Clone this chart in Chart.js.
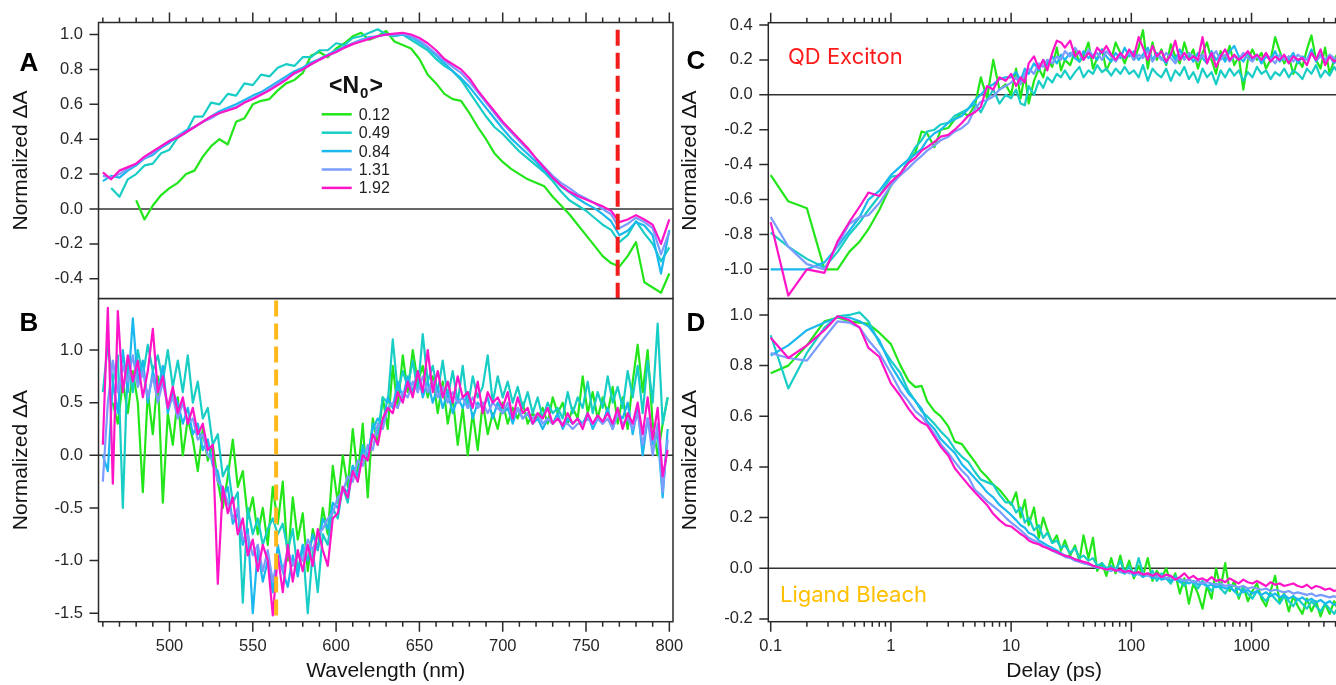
<!DOCTYPE html>
<html>
<head>
<meta charset="utf-8">
<script src="https://cdn.jsdelivr.net/npm/chart.js@4.4.1/dist/chart.umd.min.js"></script>
<style>
  html, body { margin: 0; padding: 0; background: #fff; overflow: hidden; }
  body { width: 1336px; height: 685px; position: relative; }
  canvas { position: absolute; }
</style>
</head>
<body>
<canvas id="chartA" width="690" height="300" style="left:0px;top:0px"></canvas>
<canvas id="chartB" width="690" height="387" style="left:0px;top:298px"></canvas>
<canvas id="chartC" width="669" height="300" style="left:676px;top:0px"></canvas>
<canvas id="chartD" width="669" height="387" style="left:676px;top:298px"></canvas>
<script>
// series in legend order
const seriesLabels = ['0.12', '0.49', '0.84', '1.31', '1.92'];
const seriesColors = ['#22e61a', '#18cdc6', '#1ab8ee', '#7b9cff', '#ff14c8'];

// tick labels
const yTicksA = [-0.4, -0.2, 0, 0.2, 0.4, 0.6, 0.8, 1.0];
const yTicksB = [-1.5, -1.0, -0.5, 0, 0.5, 1.0];
const yTicksC = [-1.0, -0.8, -0.6, -0.4, -0.2, 0, 0.2, 0.4];
const yTicksD = [-0.2, 0, 0.2, 0.4, 0.6, 0.8, 1.0];
const wlMajor = [500, 550, 600, 650, 700, 750, 800];
const wlMinor = [460, 470, 480, 490, 510, 520, 530, 540, 560, 570, 580, 590, 610, 620, 630, 640, 660, 670, 680, 690, 710, 720, 730, 740, 760, 770, 780, 790];
const delayMajor = [0.1, 1, 10, 100, 1000];
const delayMinor = [0.2, 0.3, 0.4, 0.5, 0.6, 0.7, 0.8, 0.9, 2, 3, 4, 5, 6, 7, 8, 9, 20, 30, 40, 50, 60, 70, 80, 90, 200, 300, 400, 500, 600, 700, 800, 900, 2000, 3000, 4000, 5000];

// marker wavelengths
const markerA = 769;
const markerB = 564;

// panel A: normalized spectra, 5 nm steps
const wlA = [460, 465, 470, 475, 480, 485, 490, 495, 500, 505,
  510, 515, 520, 525, 530, 535, 540, 545, 550, 555,
  560, 565, 570, 575, 580, 585, 590, 595, 600, 605,
  610, 615, 620, 625, 630, 635, 640, 645, 650, 655,
  660, 665, 670, 675, 680, 685, 690, 695, 700, 705,
  710, 715, 720, 725, 730, 735, 740, 745, 750, 755,
  760, 765, 770, 775, 780, 785, 790, 795, 800];
const specA_012 = [null, null, null, null, 0.05, -0.06, 0.02, 0.08, 0.12, 0.15,
  0.20, 0.22, 0.30, 0.36, 0.40, 0.37, 0.50, 0.52, 0.60, 0.62,
  0.63, 0.68, 0.72, 0.74, 0.78, 0.88, 0.90, 0.87, 0.92, 0.95,
  0.99, 1.01, 0.97, 0.99, 1.02, 0.96, 0.94, 0.92, 0.86, 0.77,
  0.72, 0.66, 0.63, 0.62, 0.55, 0.47, 0.40, 0.32, 0.27, 0.23,
  0.20, 0.17, 0.15, 0.13, 0.07, 0.02, -0.03, -0.09, -0.15, -0.21,
  -0.27, -0.31, -0.33, -0.27, -0.19, -0.42, -0.45, -0.48, -0.37];
const specA_049 = [null, 0.12, 0.07, 0.17, 0.20, 0.25, 0.26, 0.32, 0.34, 0.41,
  0.44, 0.53, 0.53, 0.61, 0.60, 0.66, 0.65, 0.72, 0.71, 0.77,
  0.76, 0.81, 0.83, 0.82, 0.87, 0.87, 0.91, 0.91, 0.95, 0.94,
  0.98, 0.99, 1.01, 1.03, 1.0, 0.99, 1.0, 0.97, 0.94, 0.91,
  0.86, 0.82, 0.79, 0.74, 0.67, 0.60, 0.53, 0.47, 0.43, 0.38,
  0.33, 0.29, 0.25, 0.21, 0.16, 0.10, 0.05, 0.02, -0.01, -0.05,
  -0.09, -0.12, -0.19, -0.15, -0.07, -0.14, -0.2, -0.3, -0.22];
const specA_084 = [0.16, 0.19, 0.18, 0.22, 0.25, 0.29, 0.31, 0.35, 0.38, 0.42,
  0.45, 0.47, 0.50, 0.53, 0.56, 0.58, 0.60, 0.625, 0.65, 0.67,
  0.70, 0.73, 0.76, 0.79, 0.81, 0.84, 0.86, 0.885, 0.91, 0.93,
  0.95, 0.97, 0.985, 0.99, 1.0, 0.995, 1.0, 0.985, 0.955, 0.925,
  0.88, 0.835, 0.79, 0.75, 0.70, 0.64, 0.58, 0.52, 0.46, 0.405,
  0.36, 0.315, 0.27, 0.22, 0.175, 0.13, 0.095, 0.06, 0.03, 0.005,
  -0.03, -0.07, -0.15, -0.125, -0.075, -0.095, -0.15, -0.37, -0.12];
const specA_131 = [0.19, 0.18, 0.20, 0.23, 0.26, 0.29, 0.32, 0.36, 0.39, 0.42,
  0.44, 0.47, 0.50, 0.52, 0.55, 0.57, 0.585, 0.61, 0.635, 0.66,
  0.69, 0.72, 0.75, 0.775, 0.80, 0.83, 0.855, 0.88, 0.90, 0.925,
  0.95, 0.965, 0.98, 0.99, 1.0, 1.0, 1.005, 0.99, 0.965, 0.93,
  0.89, 0.85, 0.815, 0.78, 0.73, 0.67, 0.61, 0.55, 0.49, 0.44,
  0.39, 0.34, 0.29, 0.24, 0.19, 0.15, 0.12, 0.085, 0.06, 0.035,
  0.0, -0.03, -0.11, -0.085, -0.05, -0.075, -0.11, -0.26, -0.13];
const specA_192 = [0.21, 0.17, 0.22, 0.24, 0.26, 0.30, 0.33, 0.36, 0.39, 0.41,
  0.44, 0.47, 0.50, 0.53, 0.55, 0.565, 0.58, 0.61, 0.63, 0.655,
  0.68, 0.71, 0.74, 0.78, 0.80, 0.83, 0.855, 0.88, 0.90, 0.925,
  0.945, 0.96, 0.975, 0.99, 1.0, 1.005, 1.01, 1.0, 0.98, 0.95,
  0.91, 0.86, 0.83, 0.80, 0.75, 0.68, 0.62, 0.56, 0.50, 0.45,
  0.40, 0.35, 0.29, 0.235, 0.18, 0.135, 0.10, 0.075, 0.055, 0.035,
  0.015, -0.01, -0.075, -0.06, -0.035, -0.06, -0.09, -0.2, -0.06];

// panel B: normalized spectra, 3 nm steps
const wlB = [460, 463, 466, 469, 472, 475, 478, 481, 484, 487,
  490, 493, 496, 499, 502, 505, 508, 511, 514, 517,
  520, 523, 526, 529, 532, 535, 538, 541, 544, 547,
  550, 553, 556, 559, 562, 565, 568, 571, 574, 577,
  580, 583, 586, 589, 592, 595, 598, 601, 604, 607,
  610, 613, 616, 619, 622, 625, 628, 631, 634, 637,
  640, 643, 646, 649, 652, 655, 658, 661, 664, 667,
  670, 673, 676, 679, 682, 685, 688, 691, 694, 697,
  700, 703, 706, 709, 712, 715, 718, 721, 724, 727,
  730, 733, 736, 739, 742, 745, 748, 751, 754, 757,
  760, 763, 766, 769, 772, 775, 778, 781, 784, 787,
  790, 793, 796, 799];
const specB_012 = [null, null, 0.50, 0.30, 0.70, 0.40, 0.80, 0.50, -0.35, 0.60,
  0.20, 0.75, -0.45, 0.40, 0.10, 0.55, 0.00, 0.35, 0.15, -0.15,
  0.25, -0.05, 0.10, -0.25, -0.50, -0.20, 0.15, -0.30, -0.15, -0.60,
  -0.40, -0.75, -0.50, -0.85, -0.30, -0.65, -0.25, -1.00, -0.40, -0.80,
  -0.55, -1.10, -0.70, -0.90, -0.50, -0.75, -0.10, -0.45, 0.00, -0.30,
  0.25, -0.20, 0.30, -0.40, 0.35, 0.10, 0.55, 0.25, 0.85, 0.45,
  0.95, 0.60, 1.00, 0.70, 0.85, 0.55, 0.75, 0.40, 0.70, 0.30,
  0.55, 0.10, 0.45, 0.00, 0.40, 0.05, 0.50, 0.20, 0.40, 0.25,
  0.50, 0.30, 0.45, 0.35, 0.50, 0.30, 0.40, 0.35, 0.45, 0.30,
  0.55, 0.40, 0.50, 0.30, 0.45, 0.35, 0.75, 0.40, 0.60, 0.35,
  0.55, 0.40, 0.65, 0.30, 0.55, 0.25, 0.70, 1.05, 0.60, 1.00,
  0.30, 0.00, 0.30, 0.55];
const specB_049 = [0.60, 1.05, 0.70, 0.95, -0.50, 0.90, 0.60, 1.00, 0.75, 1.05,
  0.80, 0.95, 0.70, 1.00, 0.65, 0.90, 0.60, 0.95, 0.50, 0.70,
  0.35, 0.45, 0.10, 0.20, -0.20, -0.10, -0.45, -0.35, -1.40, -0.50,
  -0.75, -0.60, -0.85, -0.70, -0.60, -0.75, -0.65, -0.90, -0.70, -1.10,
  -0.85, -1.50, -0.90, -1.30, -0.75, -0.85, -0.50, -0.60, -0.30, -0.45,
  -0.10, -0.25, 0.10, -0.05, 0.30, 0.20, 0.55, 0.50, 1.10, 0.60,
  0.80, 0.65, 0.90, 0.60, 1.15, 0.70, 0.85, 0.60, 0.90, 0.55,
  0.80, 0.50, 0.85, 0.45, 0.75, 0.55, 0.65, 0.95, 0.50, 0.75,
  0.55, 0.70, 0.50, 0.65, 0.45, 0.60, 0.40, 0.55, 0.35, 0.50,
  0.40, 0.45, 0.35, 0.60, 0.40, 0.55, 0.45, 0.70, 0.40, 0.60,
  0.45, 0.75, 0.50, 0.65, 0.45, 0.80, 0.55, 0.85, 0.40, 0.90,
  0.50, 1.25, 0.30, 0.55];
const specB_084 = [0.00, -0.15, 0.70, 0.40, 1.00, 0.60, 1.30, 0.70, 0.90, 0.50,
  0.80, 0.60, 0.85, 0.40, 0.60, 0.50, 0.30, 0.45, 0.20, 0.30,
  0.05, 0.15, -0.10, -0.15, -0.40, -0.30, -0.65, -0.55, -0.85, -0.70,
  -1.50, -0.90, -1.20, -1.00, -1.30, -0.85, -1.10, -1.25, -0.95, -1.15,
  -0.85, -1.00, -0.75, -0.90, -0.60, -0.70, -0.45, -0.50, -0.30, -0.35,
  -0.10, -0.20, 0.05, 0.00, 0.25, 0.35, 0.30, 0.55, 0.45, 0.70,
  0.55, 0.75, 0.60, 0.80, 0.55, 0.70, 0.50, 0.65, 0.45, 0.60,
  0.40, 0.55, 0.45, 0.60, 0.35, 0.50, 0.45, 0.55, 0.35, 0.50,
  0.40, 0.45, 0.30, 0.45, 0.35, 0.40, 0.30, 0.35, 0.25, 0.35,
  0.30, 0.40, 0.25, 0.35, 0.30, 0.35, 0.30, 0.40, 0.25, 0.35,
  0.30, 0.45, 0.25, 0.40, 0.35, 0.50, 0.20, 0.45, 0.00, 0.35,
  0.10, 0.20, -0.40, 0.25];
const specB_131 = [-0.25, 0.50, 0.90, 0.60, 0.85, 0.70, 0.95, 0.65, 0.80, 0.55,
  0.75, 0.50, 0.70, 0.45, 0.55, 0.35, 0.50, 0.30, 0.35, 0.15,
  0.20, 0.00, -0.05, -0.25, -0.30, -0.45, -0.60, -0.50, -0.80, -0.75,
  -0.95, -0.85, -1.10, -0.90, -1.20, -1.00, -1.10, -0.90, -1.05, -0.95,
  -1.00, -0.80, -0.90, -0.75, -0.70, -0.60, -0.55, -0.40, -0.35, -0.20,
  -0.25, -0.05, -0.10, 0.10, 0.05, 0.30, 0.25, 0.45, 0.50, 0.45,
  0.60, 0.55, 0.70, 0.60, 0.75, 0.60, 0.70, 0.55, 0.65, 0.50,
  0.60, 0.50, 0.55, 0.45, 0.55, 0.45, 0.50, 0.40, 0.50, 0.45,
  0.40, 0.50, 0.35, 0.45, 0.35, 0.40, 0.35, 0.40, 0.30, 0.35,
  0.30, 0.35, 0.30, 0.30, 0.25, 0.30, 0.30, 0.35, 0.30, 0.35,
  0.30, 0.35, 0.25, 0.40, 0.30, 0.35, 0.25, 0.40, 0.10, 0.35,
  0.00, 0.30, -0.35, 0.15];
const specB_192 = [0.10, 1.40, -0.27, 1.37, 0.60, 0.95, 0.70, 0.90, 0.55, 0.80,
  1.20, 0.60, 0.75, 0.45, 0.65, 0.40, 0.55, 0.30, 0.45, 0.20,
  0.30, 0.05, 0.10, -1.22, -0.30, -0.55, -0.40, -0.75, -0.60, -0.95,
  -0.80, -1.10, -0.85, -1.00, -1.52, -0.95, -1.30, -0.85, -1.20, -0.90,
  -1.10, -0.85, -1.05, -0.70, -0.90, -1.05, -0.60, -0.55, -0.30, -0.40,
  -0.15, -0.25, 0.00, -0.05, 0.20, 0.10, 0.35, 0.45, 0.40, 0.60,
  0.50, 0.70, 0.55, 0.80, 0.60, 1.00, 0.60, 0.80, 0.55, 0.70,
  0.50, 0.75, 0.55, 0.60, 0.45, 0.70, 0.40, 0.60, 0.50, 0.55,
  0.45, 0.60, 0.35, 0.55, 0.40, 0.45, 0.30, 0.40, 0.35, 0.45,
  0.30, 0.35, 0.28, 0.40, 0.30, 0.35, 0.25, 0.40, 0.30, 0.38,
  0.32, 0.40, 0.30, 0.45, 0.25, 0.40, 0.30, 0.50, 0.20, 0.55,
  0.15, 0.45, -0.20, 0.05];

// panels C and D: kinetics vs delay (ps)
const delay = [0.1, 0.14, 0.2, 0.28, 0.36, 0.45, 0.55, 0.65, 0.8, 1.0,
  1.2, 1.4, 1.6, 1.8, 2.0, 2.3, 2.6, 3.0, 3.4, 3.9,
  4.4, 5.0, 5.6, 6.3, 7.1, 8.0, 9.0, 10, 11, 12,
  13, 14, 15.5, 17, 18.5, 20, 22, 24, 26, 28,
  31, 34, 37, 40, 44, 48, 52, 57, 62, 68,
  74, 81, 88, 96, 105, 115, 125, 137, 150, 163,
  178, 195, 213, 232, 253, 276, 301, 328, 358, 391,
  426, 465, 507, 553, 603, 658, 718, 783, 854, 932,
  1017, 1109, 1210, 1320, 1440, 1571, 1714, 1870, 2040, 2225,
  2427, 2648, 2889, 3151, 3438, 3750, 4091, 4463, 4869, 5311,
  5794];
const kinC_012 = [-0.46, -0.61, -0.65, -1.0, -1.0, -0.9, -0.84, -0.77, -0.66, -0.52,
  -0.45, -0.38, -0.33, -0.21, -0.22, -0.3, -0.2, -0.19, -0.14, -0.1,
  -0.12, -0.06, 0.1, -0.02, 0.2, 0.03, 0.06, 0.0, 0.15, -0.02,
  0.12, -0.05, 0.08, 0.15, 0.1, 0.2, 0.16, 0.27, 0.14, 0.2,
  0.17, 0.25, 0.19, 0.22, 0.3, 0.15, 0.21, 0.26, 0.14, 0.2,
  0.3, 0.24, 0.18, 0.25, 0.2, 0.27, 0.37, 0.15, 0.3, 0.2,
  0.26, 0.17, 0.29, 0.22, 0.18, 0.3, 0.21, 0.26, 0.15, 0.24,
  0.3, 0.2, 0.12, 0.25, 0.2, 0.28, 0.17, 0.22, 0.03, 0.2,
  0.26, 0.2, 0.24, 0.15, 0.2, 0.33, 0.25, 0.18, 0.22, 0.12,
  0.2, 0.16, 0.26, 0.34, 0.2, 0.15, 0.27, 0.12, 0.2, 0.25,
  0.16];
const kinC_049 = [-0.79, -0.87, -0.94, -0.99, -0.9, -0.8, -0.73, -0.66, -0.58, -0.47,
  -0.46, -0.37, -0.3, -0.26, -0.21, -0.2, -0.17, -0.16, -0.12, -0.1,
  -0.08, -0.05, -0.1, -0.03, 0.03, -0.05, 0.0, -0.02, 0.03, -0.05,
  -0.06, 0.05, 0.0, 0.08, 0.04, 0.1, 0.07, 0.12, 0.1, 0.14,
  0.09, 0.13, 0.16, 0.1, 0.14, 0.12, 0.17, 0.13, 0.15, 0.11,
  0.15, 0.12, 0.16, 0.12, 0.14, 0.1, 0.17, 0.08, 0.15, 0.12,
  0.1, 0.15, 0.08, 0.14, 0.11, 0.16, 0.09, 0.13, 0.07, 0.15,
  0.1, 0.13, 0.06, 0.14, 0.1, 0.15, 0.11, 0.14, 0.08, 0.13,
  0.1, 0.16, 0.12, 0.14, 0.09, 0.13, 0.11, 0.15, 0.1, 0.14,
  0.12, 0.09, 0.15, 0.12, 0.17, 0.1, 0.14, 0.11, 0.16, 0.12,
  0.15];
const kinC_084 = [-1.0, -1.0, -1.0, -0.96, -0.87, -0.78, -0.7, -0.6, -0.55, -0.46,
  -0.41, -0.37, -0.34, -0.31, -0.26, -0.22, -0.2, -0.16, -0.14, -0.12,
  -0.08, -0.03, 0.0, 0.04, 0.06, 0.09, 0.1, 0.1, 0.13, 0.08,
  0.15, 0.12, 0.18, 0.14, 0.2, 0.17, 0.22, 0.18, 0.23, 0.2,
  0.24, 0.21, 0.19, 0.25, 0.21, 0.23, 0.2, 0.26, 0.22, 0.19,
  0.24, 0.21, 0.27, 0.22, 0.25, 0.2, 0.23, 0.27, 0.2, 0.24,
  0.21, 0.18, 0.24, 0.2, 0.26, 0.21, 0.23, 0.19, 0.24, 0.21,
  0.18, 0.25, 0.2, 0.23, 0.19, 0.25, 0.28, 0.22, 0.19, 0.24,
  0.2, 0.23, 0.18, 0.22, 0.2, 0.25, 0.19, 0.22, 0.2, 0.24,
  0.18, 0.22, 0.2, 0.26, 0.19, 0.23, 0.2, 0.22, 0.18, 0.21,
  0.2];
const kinC_131 = [-0.7, -0.87, -0.97, -1.0, -0.86, -0.74, -0.7, -0.69, -0.62, -0.52,
  -0.46, -0.42, -0.38, -0.35, -0.32, -0.29, -0.26, -0.24, -0.21, -0.19,
  -0.16, -0.08, -0.04, -0.03, -0.01, 0.03, 0.05, 0.07, 0.1, 0.06,
  0.12, 0.15, 0.12, 0.18, 0.16, 0.2, 0.18, 0.22, 0.2, 0.25,
  0.22, 0.27, 0.23, 0.2, 0.26, 0.22, 0.24, 0.2, 0.25, 0.22,
  0.19, 0.23, 0.21, 0.25, 0.2, 0.23, 0.21, 0.25, 0.19, 0.23,
  0.2, 0.24, 0.21, 0.18, 0.23, 0.2, 0.24, 0.22, 0.19, 0.23,
  0.2, 0.22, 0.25, 0.2, 0.23, 0.19, 0.22, 0.2, 0.24, 0.21,
  0.19, 0.22, 0.2, 0.23, 0.21, 0.18, 0.23, 0.2, 0.22, 0.19,
  0.23, 0.21, 0.2, 0.24, 0.2, 0.22, 0.19, 0.23, 0.21, 0.2,
  0.22];
const kinC_192 = [-0.73, -1.15, -1.0, -1.02, -0.84, -0.73, -0.64, -0.56, -0.58, -0.5,
  -0.45, -0.39, -0.36, -0.32, -0.30, -0.27, -0.24, -0.23, -0.2, -0.16,
  -0.12, -0.1, -0.07, 0.05, 0.03, 0.1, 0.08, 0.12, 0.05, 0.1,
  0.07, 0.18, 0.22, 0.15, 0.2, 0.14, 0.24, 0.31, 0.3, 0.27,
  0.31, 0.22, 0.25, 0.2, 0.24, 0.21, 0.27, 0.24, 0.28, 0.23,
  0.2, 0.24, 0.21, 0.26, 0.22, 0.33, 0.27, 0.2, 0.28, 0.22,
  0.25, 0.19, 0.23, 0.31, 0.2, 0.24, 0.2, 0.22, 0.2, 0.33,
  0.18, 0.24, 0.16, 0.22, 0.26, 0.2, 0.23, 0.2, 0.22, 0.25,
  0.21, 0.23, 0.2, 0.24, 0.19, 0.22, 0.2, 0.23, 0.18, 0.22,
  0.2, 0.21, 0.17, 0.24, 0.2, 0.26, 0.17, 0.22, 0.19, 0.21,
  0.2];
const kinD_012 = [0.77, 0.8, 0.88, 0.975, 0.99, 0.975, 0.97, 0.965, 0.93, 0.885,
  0.8, 0.74, 0.715, 0.72, 0.66, 0.62, 0.6, 0.56, 0.5, 0.49,
  0.455, 0.42, 0.385, 0.36, 0.33, 0.31, 0.28, 0.25, 0.3, 0.2,
  0.27, 0.17, 0.24, 0.12, 0.2, 0.15, 0.1, 0.13, 0.07, 0.11,
  0.05, 0.09, 0.03, 0.13, 0.04, 0.12, -0.01, 0.02, -0.03, 0.04,
  -0.02, 0.05, -0.02, 0.03, -0.04, 0.01, -0.03, 0.04, -0.05, -0.01,
  -0.04, 0.0, -0.06, -0.02, -0.1, -0.04, -0.14, -0.06, -0.1, -0.16,
  -0.07, -0.12, 0.0, -0.08, 0.02, -0.09, -0.05, -0.12, -0.07, -0.13,
  -0.09, -0.06, -0.12, -0.15, -0.09, -0.03, -0.13, -0.1, -0.17, -0.11,
  -0.15, -0.18, -0.12, -0.17, -0.13, -0.19, -0.14, -0.18, -0.13, -0.17,
  -0.15];
const kinD_049 = [0.92, 0.71, 0.85, 0.95, 0.995, 1.0, 1.01, 0.975, 0.89, 0.82,
  0.77, 0.7, 0.66, 0.62, 0.6, 0.57, 0.54, 0.51, 0.47, 0.44,
  0.42, 0.38, 0.35, 0.34, 0.33, 0.29, 0.26, 0.26, 0.22, 0.24,
  0.18, 0.2, 0.15, 0.17, 0.12, 0.14, 0.1, 0.11, 0.08, 0.09,
  0.06, 0.08, 0.04, 0.05, 0.03, 0.04, 0.01, 0.02, 0.0, 0.01,
  -0.01, 0.03, -0.02, 0.01, -0.03, 0.04, -0.02, -0.03, -0.01, -0.05,
  -0.02, -0.04, -0.06, -0.03, -0.05, -0.07, -0.04, -0.06, -0.08, -0.05,
  -0.07, -0.09, -0.06, -0.08, -0.1, -0.07, -0.09, -0.11, -0.08, -0.1,
  -0.12, -0.09, -0.11, -0.13, -0.1, -0.12, -0.14, -0.11, -0.13, -0.15,
  -0.12, -0.14, -0.16, -0.13, -0.15, -0.17, -0.14, -0.16, -0.18, -0.15,
  -0.17];
const kinD_084 = [0.84, 0.88, 0.94, 0.97, 0.99, 0.99, 0.975, 0.955, 0.9, 0.8,
  0.74, 0.69, 0.66, 0.63, 0.58, 0.55, 0.51, 0.48, 0.455, 0.41,
  0.385, 0.355, 0.33, 0.3, 0.28, 0.25, 0.23, 0.21, 0.19, 0.17,
  0.16, 0.14, 0.13, 0.11, 0.1, 0.09, 0.08, 0.07, 0.06, 0.05,
  0.045, 0.035, 0.03, 0.02, 0.015, 0.01, 0.0, 0.005, -0.005, -0.01,
  0.0, -0.015, -0.02, -0.01, -0.03, -0.02, -0.035, -0.025, -0.04, -0.03,
  -0.045, -0.04, -0.05, -0.04, -0.055, -0.05, -0.06, -0.05, -0.065, -0.06,
  -0.07, -0.065, -0.075, -0.07, -0.08, -0.075, -0.09, -0.08, -0.095, -0.085,
  -0.1, -0.09, -0.105, -0.095, -0.11, -0.1, -0.115, -0.105, -0.12, -0.11,
  -0.125, -0.115, -0.13, -0.12, -0.135, -0.125, -0.14, -0.13, -0.145, -0.135,
  -0.14];
const kinD_131 = [0.85, 0.83, 0.82, 0.91, 0.975, 0.97, 0.95, 0.9, 0.85, 0.77,
  0.7, 0.66, 0.62, 0.6, 0.57, 0.53, 0.49, 0.455, 0.42, 0.385,
  0.36, 0.31, 0.29, 0.265, 0.245, 0.225, 0.2, 0.18, 0.165, 0.15,
  0.135, 0.12, 0.11, 0.1, 0.09, 0.08, 0.07, 0.06, 0.055, 0.045,
  0.04, 0.03, 0.025, 0.02, 0.015, 0.01, 0.005, 0.0, -0.005, -0.01,
  -0.005, -0.015, -0.01, -0.02, -0.015, -0.025, -0.02, -0.03, -0.025, -0.035,
  -0.03, -0.04, -0.035, -0.045, -0.04, -0.05, -0.045, -0.055, -0.05, -0.06,
  -0.055, -0.06, -0.065, -0.06, -0.07, -0.065, -0.07, -0.075, -0.07, -0.08,
  -0.075, -0.08, -0.085, -0.08, -0.09, -0.085, -0.09, -0.095, -0.09, -0.1,
  -0.095, -0.1, -0.105, -0.1, -0.11, -0.105, -0.11, -0.115, -0.11, -0.12,
  -0.115];
const kinD_192 = [0.91, 0.83, 0.88, 0.94, 0.995, 0.98, 0.95, 0.87, 0.835, 0.73,
  0.68, 0.63, 0.595, 0.575, 0.565, 0.52, 0.48, 0.445, 0.395, 0.36,
  0.33, 0.3, 0.275, 0.25, 0.215, 0.19, 0.17, 0.165, 0.15, 0.135,
  0.125, 0.11, 0.1, 0.095, 0.085, 0.08, 0.07, 0.065, 0.055, 0.05,
  0.045, 0.035, 0.03, 0.025, 0.02, 0.01, 0.005, 0.0, -0.005, 0.0,
  -0.01, -0.005, -0.015, -0.01, -0.02, -0.015, -0.025, -0.02, -0.03, -0.02,
  -0.035, -0.025, -0.03, -0.045, -0.035, -0.02, -0.04, -0.03, -0.045, -0.04,
  -0.05, -0.035, -0.05, -0.045, -0.055, -0.04, -0.05, -0.06, -0.045, -0.055,
  -0.06, -0.05, -0.06, -0.07, -0.055, -0.065, -0.06, -0.07, -0.065, -0.06,
  -0.07, -0.075, -0.065, -0.08, -0.07, -0.075, -0.085, -0.08, -0.09, -0.085,
  -0.095];

const fam = "'Liberation Sans', Arial, Helvetica, sans-serif";
Chart.defaults.font.family = fam;
Chart.defaults.font.size = 16.5;
Chart.defaults.color = '#262626';

const toPoints = (xs, ys) => xs.map((x, i) => ({x: x, y: ys[i]}));

function traces(xs, list) {
  return list.map((ys, k) => ({
    label: seriesLabels[k],
    data: toPoints(xs, ys),
    borderColor: seriesColors[k],
    borderWidth: 2.2,
    pointRadius: 0,
    borderJoinStyle: 'round',
    order: 5 - k
  }));
}

function marker(x, top, bottom, color) {
  return {
    label: 'marker',
    data: [{x: x, y: top}, {x: x, y: bottom}],
    borderColor: color,
    borderWidth: 4,
    borderDash: [16, 7],
    pointRadius: 0,
    order: 0
  };
}

function yAxis(min, max, ticks, width, titlePad) {
  return {
    type: 'linear', position: 'left', min: min, max: max, bounds: 'data',
    grid: {display: false, drawTicks: false}, border: {display: false},
    afterBuildTicks: s => { s.ticks = ticks.map(v => ({value: v})); },
    afterFit: s => { s.width = width; s.paddingTop = 0; s.paddingBottom = 0; },
    ticks: {padding: 15.5, autoSkip: false, callback: v => v.toFixed(1)},
    title: {display: true, text: 'Normalized ΔA', font: {size: 21}, color: '#141414', padding: {top: titlePad, bottom: 0}}
  };
}

function xAxis(type, min, max, ticks, title, shown) {
  const ax = {type: type, position: 'bottom', min: min, max: max, bounds: 'data', display: shown};
  if (!shown) return ax;
  return Object.assign(ax, {
    grid: {display: false, drawTicks: false}, border: {display: false},
    afterBuildTicks: s => { s.ticks = ticks.map(v => ({value: v})); },
    afterFit: s => { s.height = 63.3; s.paddingLeft = 0; s.paddingRight = 0; },
    ticks: {padding: 15, autoSkip: false, maxRotation: 0, minRotation: 0, callback: v => String(v)},
    title: {display: true, text: title, font: {size: 21}, color: '#141414', padding: {top: 0, bottom: 1}}
  });
}

const framePlugin = {
  id: 'frame',
  beforeDatasetsDraw(chart) {
    const {ctx, chartArea: a} = chart;
    const y0 = chart.scales.y.getPixelForValue(0);
    ctx.save();
    ctx.strokeStyle = '#333';
    ctx.lineWidth = 1.4;
    ctx.beginPath();
    ctx.moveTo(a.left, y0);
    ctx.lineTo(a.right, y0);
    ctx.stroke();
    ctx.restore();
  },
  afterDraw(chart, args, o) {
    const {ctx, chartArea: a} = chart;
    const x = chart.scales.x, y = chart.scales.y;
    ctx.save();
    ctx.strokeStyle = '#2a2a2a';
    ctx.lineWidth = 1.5;
    ctx.strokeRect(a.left, a.top, a.right - a.left, a.bottom - a.top);
    const edge = o.edge === 'top' ? a.top : a.bottom;
    const dir = o.edge === 'top' ? -1 : 1;
    ctx.beginPath();
    const mark = (list, len) => list.forEach(v => {
      if (v < x.min || v > x.max) return;
      const px = x.getPixelForValue(v);
      ctx.moveTo(px, edge);
      ctx.lineTo(px, edge + dir * len);
    });
    mark(o.major, 10);
    mark(o.minor, 5);
    y.ticks.forEach(t => {
      const py = y.getPixelForValue(t.value);
      ctx.moveTo(a.left, py);
      ctx.lineTo(a.left - 9, py);
    });
    ctx.stroke();

    // panel letter
    ctx.fillStyle = '#000';
    ctx.font = 'bold 26px ' + fam;
    ctx.textAlign = 'center';
    ctx.textBaseline = 'middle';
    ctx.fillText(o.letter, o.lx, o.ly);

    if (o.note) {
      ctx.font = "22px Inter, 'Open Sans', sans-serif";
      ctx.fillStyle = o.note.color;
      ctx.textAlign = 'left';
      ctx.textBaseline = 'alphabetic';
      ctx.fillText(o.note.text, o.note.x, o.note.y);
    }

    if (o.legend) {
      const g = o.legend;
      ctx.fillStyle = '#111';
      ctx.textAlign = 'left';
      ctx.textBaseline = 'alphabetic';
      ctx.font = 'bold 23px ' + fam;
      ctx.fillText('<N', g.tx, g.ty);
      let cx = g.tx + ctx.measureText('<N').width + 1;
      ctx.font = 'bold 15px ' + fam;
      ctx.fillText('0', cx, g.ty + 5);
      cx += ctx.measureText('0').width + 1;
      ctx.font = 'bold 23px ' + fam;
      ctx.fillText('>', cx, g.ty);
      ctx.font = '16px ' + fam;
      ctx.textBaseline = 'middle';
      seriesLabels.forEach((lab, k) => {
        const ly = g.y + k * g.step;
        ctx.strokeStyle = seriesColors[k];
        ctx.lineWidth = 2.5;
        ctx.beginPath();
        ctx.moveTo(g.x, ly);
        ctx.lineTo(g.x + 30, ly);
        ctx.stroke();
        ctx.fillStyle = '#222';
        ctx.fillText(lab, g.x + 37, ly + 1);
      });
    }
    ctx.restore();
  }
};

function panel(id, cfg) {
  return new Chart(document.getElementById(id), {
    type: 'line',
    data: {datasets: cfg.datasets},
    options: {
      responsive: false,
      animation: false,
      devicePixelRatio: 1,
      events: [],
      layout: {autoPadding: false, padding: cfg.padding},
      plugins: {legend: {display: false}, tooltip: {enabled: false}, frame: cfg.frame},
      scales: {x: cfg.x, y: cfg.y}
    },
    plugins: [framePlugin]
  });
}

panel('chartA', {
  datasets: traces(wlA, [specA_012, specA_049, specA_084, specA_131, specA_192])
    .concat([marker(markerA, 1.027, -0.513, '#f21c1c')]),
  padding: {top: 22.5, right: 17, bottom: 1.5, left: 0},
  x: xAxis('linear', 457.4, 802.2, wlMajor, '', false),
  y: yAxis(-0.513, 1.069, yTicksA, 98.5, 8.4),
  frame: {edge: 'top', major: wlMajor, minor: wlMinor, letter: 'A', lx: 29, ly: 64,
    legend: {tx: 329, ty: 93, x: 321.7, y: 114.3, step: 18.4}}
});

panel('chartB', {
  datasets: traces(wlB, [specB_012, specB_049, specB_084, specB_131, specB_192])
    .concat([marker(markerB, 1.47, -1.58, '#ffb81c')]),
  padding: {top: 0.5, right: 17, bottom: 0, left: 0},
  x: xAxis('linear', 457.4, 802.2, wlMajor, 'Wavelength (nm)', true),
  y: yAxis(-1.58, 1.489, yTicksB, 98.5, 8.4),
  frame: {edge: 'bottom', major: wlMajor, minor: wlMinor, letter: 'B', lx: 29, ly: 26}
});

panel('chartC', {
  datasets: traces(delay, [kinC_012, kinC_049, kinC_084, kinC_131, kinC_192]),
  padding: {top: 22.7, right: 5, bottom: 1.5, left: 0},
  x: xAxis('logarithmic', 0.0955, 5443, delayMajor, '', false),
  y: yAxis(-1.167, 0.413, yTicksC, 92.3, 1.4),
  frame: {edge: 'top', major: delayMajor, minor: delayMinor, letter: 'C', lx: 20, ly: 62,
    note: {text: 'QD Exciton', color: '#ff1a1a', x: 112, y: 64}}
});

panel('chartD', {
  datasets: traces(delay, [kinD_012, kinD_049, kinD_084, kinD_131, kinD_192]),
  padding: {top: 0.5, right: 5, bottom: 0, left: 0},
  x: xAxis('logarithmic', 0.0955, 5443, delayMajor, 'Delay (ps)', true),
  y: yAxis(-0.211, 1.065, yTicksD, 92.3, 1.4),
  frame: {edge: 'bottom', major: delayMajor, minor: delayMinor, letter: 'D', lx: 20, ly: 26,
    note: {text: 'Ligand Bleach', color: '#ffc000', x: 104, y: 304}}
});
</script>
</body>
</html>
